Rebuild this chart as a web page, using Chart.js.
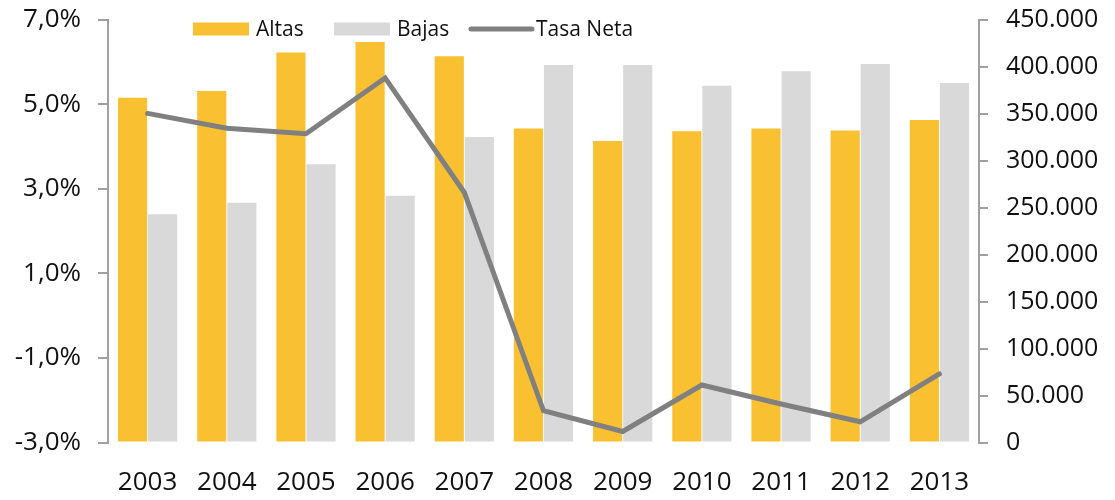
<!DOCTYPE html>
<html>
<head>
<meta charset="utf-8">
<script src="https://cdn.jsdelivr.net/npm/chart.js@4.4.1/dist/chart.umd.min.js"></script>
<style>
  html, body { margin: 0; padding: 0; background: #ffffff; }
  #wrap { width: 1115px; height: 500px; position: relative; }
</style>
</head>
<body>
<div id="wrap"><canvas id="c" width="1115" height="500"></canvas></div>
<script>
const years = ['2003','2004','2005','2006','2007','2008','2009','2010','2011','2012','2013'];
const altas = [366800, 374000, 415000, 426000, 411000, 334000, 320700, 331000, 334000, 332000, 343000];
const bajas = [242700, 255000, 296000, 262500, 325000, 401500, 401500, 379500, 395000, 402600, 382400];
const tasaNeta = [4.78, 4.43, 4.30, 5.62, 2.91, -2.25, -2.74, -1.64, -2.09, -2.51, -1.38];
const leftTickLabels = ['-3,0%', '-1,0%', '1,0%', '3,0%', '5,0%', '7,0%'];
const rightTickLabels = ['0', '50.000', '100.000', '150.000', '200.000', '250.000', '300.000', '350.000', '400.000', '450.000'];
const seriesNames = ['Altas', 'Bajas', 'Tasa Neta'];

const FONT = "'Open Sans', 'DejaVu Sans', sans-serif";
const TEXT = '#111111';
const AXIS = '#a0a0a0';
const ORANGE = '#f9c132';
const GREY = '#d9d9d9';
const LINE = '#808080';

const legendPlugin = {
  id: 'customLegend',
  afterDraw(chart) {
    const ctx = chart.ctx;
    const y = 29;
    const items = [
      { x: 193, kind: 'box', color: ORANGE, label: seriesNames[0] },
      { x: 334, kind: 'box', color: GREY, label: seriesNames[1] },
      { x: 471, kind: 'line', color: LINE, label: seriesNames[2] }
    ];
    ctx.save();
    ctx.font = "21px " + FONT;
    ctx.textBaseline = 'middle';
    ctx.textAlign = 'left';
    items.forEach(it => {
      if (it.kind === 'box') {
        ctx.fillStyle = it.color;
        ctx.fillRect(it.x, y - 6.5, 56, 13);
        ctx.fillStyle = TEXT;
        ctx.fillText(it.label, it.x + 63, y + 1);
      } else {
        ctx.strokeStyle = it.color;
        ctx.lineWidth = 5;
        ctx.lineCap = 'round';
        ctx.beginPath();
        ctx.moveTo(it.x, y);
        ctx.lineTo(it.x + 61, y);
        ctx.stroke();
        ctx.fillStyle = TEXT;
        ctx.fillText(it.label, it.x + 65, y + 1);
      }
    });
    ctx.restore();
  }
};

new Chart(document.getElementById('c'), {
  type: 'bar',
  data: {
    labels: years,
    datasets: [
      { type: 'line', label: seriesNames[2], data: tasaNeta, yAxisID: 'yL',
        borderColor: LINE, backgroundColor: LINE, borderWidth: 5, pointRadius: 0,
        tension: 0, order: 0, borderCapStyle: 'round', borderJoinStyle: 'miter' },
      { label: seriesNames[0], data: altas, yAxisID: 'yR', backgroundColor: ORANGE,
        borderWidth: 0, order: 1, barPercentage: 0.97, categoryPercentage: 0.76 },
      { label: seriesNames[1], data: bajas, yAxisID: 'yR', backgroundColor: GREY,
        borderWidth: 0, order: 2, barPercentage: 0.97, categoryPercentage: 0.76 }
    ]
  },
  options: {
    responsive: false,
    animation: false,
    layout: { padding: { top: 19.5, left: 0, right: 0, bottom: 0 } },
    plugins: { legend: { display: false }, tooltip: { enabled: false } },
    scales: {
      x: {
        offset: true,
        grid: { display: false, drawTicks: false },
        border: { display: false },
        ticks: { color: TEXT, font: { family: FONT, size: 26 }, padding: 24, maxRotation: 0 },
        afterFit(s) { s.height = 57.5; s.paddingLeft = 0; s.paddingRight = 0; }
      },
      yL: {
        position: 'left', min: -3, max: 7,
        grid: { display: true, drawOnChartArea: false, drawTicks: true, tickLength: 10, color: AXIS, lineWidth: 2 },
        border: { display: true, color: AXIS, width: 2 },
        ticks: { stepSize: 2, color: TEXT, font: { family: FONT, size: 26 }, padding: 17,
          callback: (v, i) => leftTickLabels[i] },
        afterFit(s) { s.width = 108; s.paddingTop = 0; s.paddingBottom = 0; }
      },
      yR: {
        position: 'right', min: 0, max: 450000,
        grid: { display: true, drawOnChartArea: false, drawTicks: true, tickLength: 9, color: AXIS, lineWidth: 2 },
        border: { display: true, color: AXIS, width: 2 },
        ticks: { stepSize: 50000, color: TEXT, font: { family: FONT, size: 25 }, padding: 18,
          callback: (v, i) => rightTickLabels[i] },
        afterFit(s) { s.width = 136; s.paddingTop = 0; s.paddingBottom = 0; }
      }
    }
  },
  plugins: [legendPlugin]
});
</script>
</body>
</html>
